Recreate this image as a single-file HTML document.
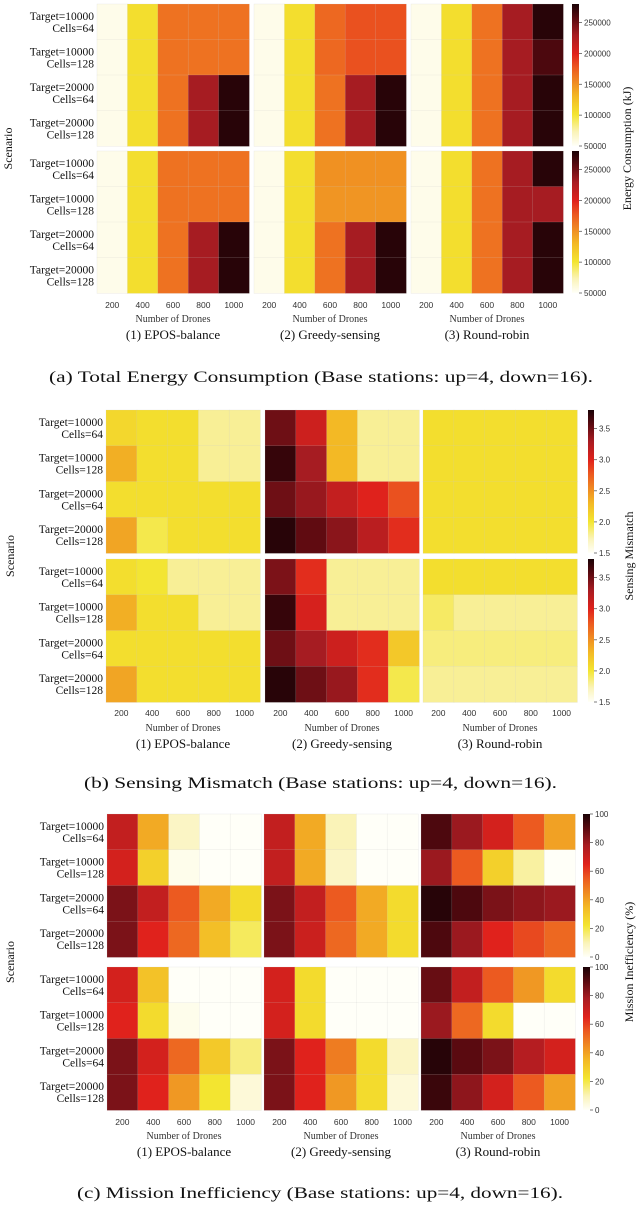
<!DOCTYPE html>
<html><head><meta charset="utf-8"><style>
html,body{margin:0;padding:0;background:#fff;}
svg{display:block;font-family:"Liberation Serif",serif;}
</style></head><body>
<svg id="fig" width="640" height="1205" viewBox="0 0 640 1205" xmlns="http://www.w3.org/2000/svg"></svg>
<script>
// ---- data ----
const drones = [200, 400, 600, 800, 1000];
const scenarioLine1 = ["Target=10000", "Target=10000", "Target=20000", "Target=20000"];
const scenarioLine2 = ["Cells=64", "Cells=128", "Cells=64", "Cells=128"];
const methods = ["(1) EPOS-balance", "(2) Greedy-sensing", "(3) Round-robin"];

// (a) energy consumption (kJ)
const energyEposTop = [[55000,105000,165000,165000,165000],[55000,105000,165000,165000,165000],[55000,105000,165000,230000,275000],[55000,105000,165000,230000,275000]];
const energyGreedyTop = [[55000,105000,170000,180000,180000],[55000,105000,170000,180000,180000],[55000,105000,165000,230000,275000],[55000,105000,165000,230000,275000]];
const energyRoundTop = [[55000,105000,165000,230000,275000],[55000,105000,165000,230000,262000],[55000,105000,165000,230000,275000],[55000,105000,165000,230000,275000]];
const energyEposBottom = [[55000,105000,165000,165000,165000],[55000,105000,165000,165000,165000],[55000,105000,165000,230000,275000],[55000,105000,165000,230000,275000]];
const energyGreedyBottom = [[55000,105000,150000,150000,150000],[55000,105000,148000,148000,148000],[55000,105000,165000,230000,275000],[55000,105000,165000,230000,275000]];
const energyRoundBottom = [[55000,105000,165000,230000,275000],[55000,105000,165000,230000,230000],[55000,105000,165000,230000,275000],[55000,105000,165000,230000,275000]];
const energyTicks = [50000,100000,150000,200000,250000];

// (b) sensing mismatch
const mismatchEposTop = [[2.1,2.05,2.05,1.8,1.8],[2.35,2.05,2.05,1.8,1.8],[2.05,2.05,2.05,2.05,2.05],[2.4,1.95,2.05,2.05,2.05]];
const mismatchGreedyTop = [[3.5,3.1,2.3,1.8,1.8],[3.7,3.3,2.3,1.8,1.8],[3.5,3.35,3.15,3.0,2.8],[3.75,3.55,3.4,3.2,2.95]];
const mismatchRoundTop = [[2.05,2.05,2.05,2.05,2.05],[2.05,2.05,2.05,2.05,2.05],[2.05,2.05,2.05,2.05,2.05],[2.05,2.05,2.05,2.05,2.05]];
const mismatchEposBottom = [[2.05,2.0,1.8,1.8,1.8],[2.35,2.05,2.05,1.8,1.8],[2.05,2.05,2.05,2.05,2.05],[2.4,2.05,2.05,2.05,2.05]];
const mismatchGreedyBottom = [[3.45,2.95,1.8,1.8,1.8],[3.7,3.05,1.8,1.8,1.8],[3.5,3.3,3.1,2.95,2.2],[3.75,3.5,3.35,2.95,1.95]];
const mismatchRoundBottom = [[2.05,2.05,2.05,2.05,2.05],[1.9,1.8,1.8,1.8,1.8],[1.85,1.85,1.85,1.85,1.85],[1.8,1.8,1.8,1.8,1.8]];
const mismatchTicks = [1.5,2.0,2.5,3.0,3.5];

// (c) mission inefficiency (%)
const ineffEposTop = [[72,38,8,0,0],[68,28,2,0,0],[85,72,55,38,25],[85,65,52,33,18]];
const ineffGreedyTop = [[72,38,10,0,0],[72,38,8,0,0],[85,72,55,38,25],[85,70,52,38,25]];
const ineffRoundTop = [[92,80,68,55,40],[80,55,28,12,0],[98,92,85,82,80],[92,80,65,58,52]];
const ineffEposBottom = [[68,32,0,0,0],[65,25,2,0,0],[85,68,52,30,15],[85,65,42,22,5]];
const ineffGreedyBottom = [[68,25,0,0,0],[68,25,0,0,0],[85,65,48,25,8],[85,65,42,25,5]];
const ineffRoundBottom = [[88,72,55,42,25],[80,52,25,0,0],[98,90,85,75,68],[95,82,68,55,40]];
const ineffTicks = [0,20,40,60,80,100];

// ---- rendering ----
const NS = "http://www.w3.org/2000/svg";
const svg = document.getElementById("fig");
function mk(tag, attrs, parent){ const e=document.createElementNS(NS,tag); for(const k in attrs) e.setAttribute(k,attrs[k]); (parent||svg).appendChild(e); return e; }

const stops = [[0,"#fffff8"],[0.1,"#faf3b8"],[0.22,"#f3e530"],[0.35,"#f3b825"],[0.45,"#ef8a22"],[0.55,"#ec5a20"],[0.65,"#e0221c"],[0.78,"#a81c22"],[0.9,"#5a0a10"],[1,"#1a0206"]];
function hex(c){return [parseInt(c.slice(1,3),16),parseInt(c.slice(3,5),16),parseInt(c.slice(5,7),16)];}
function cmap(t){ t=Math.max(0,Math.min(1,t));
  for(let i=1;i<stops.length;i++){ if(t<=stops[i][0]){ const a=stops[i-1],b=stops[i]; const f=(t-a[0])/(b[0]-a[0]); const A=hex(a[1]),B=hex(b[1]);
    return "rgb("+A.map((v,j)=>Math.round(v+(B[j]-v)*f)).join(",")+")"; } } return stops[stops.length-1][1]; }

const defs = mk("defs",{});
const grad = mk("linearGradient",{id:"cg",x1:"0",y1:"1",x2:"0",y2:"0"},defs);
stops.forEach(s=>mk("stop",{offset:s[0],"stop-color":s[1]},grad));

function figure(cfg){
  const g = mk("g",{});
  
  
  const cw = cfg.pw/5, rh = cfg.ph/4;
  const yScale = v => (v-cfg.vmin)/(cfg.vmax-cfg.vmin);
  cfg.grids.forEach((rowPair, rIdx)=>{
    const y0 = cfg.rowsY[rIdx];
    rowPair.forEach((grid, pIdx)=>{
      const x0 = cfg.px[pIdx];
      grid.forEach((row, ri)=>row.forEach((v, ci)=>{
        const r = mk("rect",{x:x0+ci*cw, y:y0+ri*rh, width:cw+0.4, height:rh+0.4, fill:cmap(yScale(v)), stroke:"rgba(200,200,200,0.35)","stroke-width":0.5},g);
        
        
      }));
    });
    // row labels
    scenarioLine1.forEach((l1,ri)=>{
      const cy = y0 + ri*rh + rh/2;
      const t = mk("text",{x:cfg.px[0]-3, y:cy-2, "text-anchor":"end","font-size":11.5,fill:"#111"},g);
      t.textContent = l1;
      
      
      const t2 = mk("text",{x:cfg.px[0]-3, y:cy+10, "text-anchor":"end","font-size":11.5,fill:"#111"},g);
      t2.textContent = scenarioLine2[ri];
      
      
    });
    // colorbar
    const cb = mk("rect",{x:cfg.cbx, y:y0, width:cfg.cbw, height:cfg.ph, fill:"url(#cg)"},g);
    
    
    cfg.ticks.forEach(tv=>{
      const ty = y0 + cfg.ph*(1-yScale(tv));
      mk("line",{x1:cfg.cbx+cfg.cbw, x2:cfg.cbx+cfg.cbw+3, y1:ty, y2:ty, stroke:"#444","stroke-width":0.7},g);
      const tt = mk("text",{x:cfg.cbx+cfg.cbw+5, y:ty+3, "font-size":8,"font-family":"Liberation Sans, sans-serif",fill:"#333"},g);
      tt.textContent = cfg.tickFmt(tv);
      
      
    });
  });
  // x axes
  cfg.px.forEach((x0,pIdx)=>{
    drones.forEach((d,ci)=>{
      const t = mk("text",{x:x0+ci*cw+cw/2, y:cfg.tickY, "text-anchor":"middle","font-size":8.5,"font-family":"Liberation Sans, sans-serif",fill:"#333"},g);
      t.textContent = d;
      
      
    });
    const n = mk("text",{x:x0+cfg.pw/2, y:cfg.nodY, "text-anchor":"middle","font-size":10,fill:"#333"},g);
    n.textContent = "Number of Drones";
    
    
    const m = mk("text",{x:x0+cfg.pw/2, y:cfg.titleY, "text-anchor":"middle","font-size":13,fill:"#111"},g);
    m.textContent = methods[pIdx];
    
    
  });
  const midY = (cfg.rowsY[0]+cfg.rowsY[1]+cfg.ph)/2;
  const s = mk("text",{x:0,y:0,transform:"translate("+cfg.scX+","+midY+") rotate(-90)","text-anchor":"middle","font-size":12,fill:"#111"},g);
  s.textContent = "Scenario";
  
  
  const c = mk("text",{x:0,y:0,transform:"translate("+cfg.cblX+","+midY+") rotate(-90)","text-anchor":"middle","font-size":12,fill:"#111"},g);
  c.textContent = cfg.cbLabel;
  
  
  const cap = mk("text",{x:cfg.capX, y:cfg.capY, "font-size":16, fill:"#111", textLength:cfg.capW, lengthAdjust:"spacingAndGlyphs"},g);
  cap.textContent = cfg.caption;
  
  
}

figure({name:"energy-figure", grids:[[energyEposTop,energyGreedyTop,energyRoundTop],[energyEposBottom,energyGreedyBottom,energyRoundBottom]],
  vmin:50000, vmax:280000, ticks:energyTicks, tickFmt:v=>String(v),
  px:[97,254,411], pw:152, rowsY:[4,151], ph:142, cbx:572, cbw:7,
  tickY:308, nodY:322, titleY:339, scX:12, cblX:631,
  cbLabel:"Energy Consumption (kJ)", caption:"(a) Total Energy Consumption (Base stations: up=4, down=16).", capX:49, capY:382, capW:544});
figure({name:"mismatch-figure", grids:[[mismatchEposTop,mismatchGreedyTop,mismatchRoundTop],[mismatchEposBottom,mismatchGreedyBottom,mismatchRoundBottom]],
  vmin:1.5, vmax:3.8, ticks:mismatchTicks, tickFmt:v=>v.toFixed(1),
  px:[106,265,423], pw:154, rowsY:[410,559], ph:143, cbx:588, cbw:6,
  tickY:716, nodY:731, titleY:748, scX:14, cblX:633,
  cbLabel:"Sensing Mismatch", caption:"(b) Sensing Mismatch (Base stations: up=4, down=16).", capX:84, capY:788, capW:473});
figure({name:"inefficiency-figure", grids:[[ineffEposTop,ineffGreedyTop,ineffRoundTop],[ineffEposBottom,ineffGreedyBottom,ineffRoundBottom]],
  vmin:0, vmax:100, ticks:ineffTicks, tickFmt:v=>String(v),
  px:[107,264,421], pw:154, rowsY:[814,967], ph:143, cbx:583, cbw:7,
  tickY:1125, nodY:1139, titleY:1156, scX:14, cblX:633,
  cbLabel:"Mission Inefficiency (%)", caption:"(c) Mission Inefficiency (Base stations: up=4, down=16).", capX:77, capY:1198, capW:486});
</script>
</body></html>
